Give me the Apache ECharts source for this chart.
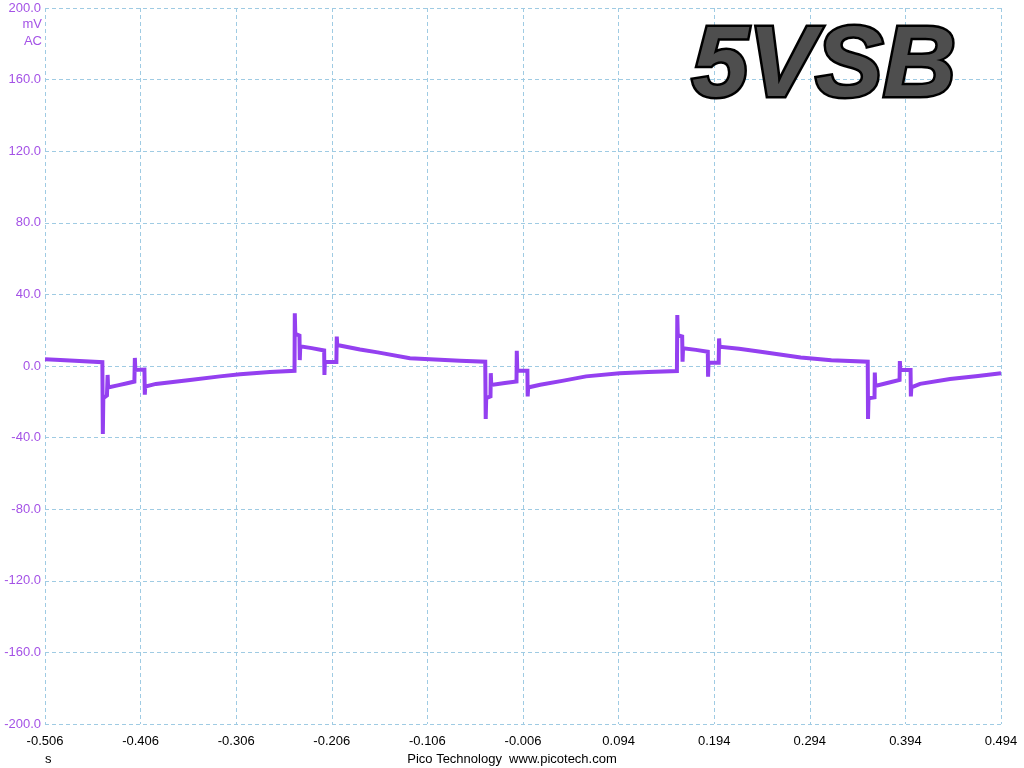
<!DOCTYPE html>
<html>
<head>
<meta charset="utf-8">
<title>5VSB</title>
<script src="https://cdn.jsdelivr.net/npm/echarts@6/dist/echarts.min.js"></script>
<style>
  html, body { margin: 0; padding: 0; background: #fff; }
  #chart { width: 1024px; height: 768px; }
</style>
</head>
<body>
<div id="chart"></div>
<script>
// time of each sample (s) and ripple voltage (mV, AC coupled)
var timeS = [
  -0.506, -0.490, -0.470, -0.4460,
  -0.4455, -0.4450, -0.4412, -0.4405, -0.4400, -0.4300, -0.4200, -0.4125,
  -0.4120, -0.4115, -0.4020, -0.4016, -0.4012,
  -0.390, -0.3543, -0.323, -0.302, -0.2706, -0.2450,
  -0.2447, -0.2442, -0.2398, -0.2395, -0.2390, -0.227, -0.2140,
  -0.2137, -0.2133, -0.2012, -0.2008, -0.2003,
  -0.1765, -0.158, -0.1243, -0.0719, -0.0455,
  -0.0450, -0.0445, -0.0400, -0.0397, -0.0392, -0.025, -0.0128,
  -0.0125, -0.0120, -0.0014, -0.0011, -0.0006,
  0.012, 0.035, 0.060, 0.095, 0.125, 0.1550,
  0.1554, 0.1559, 0.1605, 0.1609, 0.1614, 0.175, 0.1873,
  0.1876, 0.1880, 0.1987, 0.1991, 0.1996,
  0.220, 0.2426, 0.2845, 0.3165, 0.3546,
  0.3549, 0.3554, 0.3617, 0.3620, 0.3625, 0.375, 0.3879,
  0.3882, 0.3887, 0.3994, 0.3997, 0.4002,
  0.4093, 0.4407, 0.470, 0.494
];
var voltageMv = [
  3.8, 3.3, 2.8, 2.1,
  -38, -18, -16.5, -5, -12, -10.8, -9.6, -8.7,
  4.5, -2.2, -2.0, -16, -11.5,
  -10.0, -7.8, -5.8, -4.6, -3.3, -2.7,
  29.5, 18, 17, 3.3, 11, 10, 8.7,
  -5, 2.2, 2.2, 16.4, 11.7,
  9.2, 7.6, 4.3, 3.0, 2.4,
  -29.6, -18, -17, -4, -10.6, -9.5, -8.7,
  8.5, -2.6, -2.6, -17, -12,
  -10.5, -8.3, -5.8, -4.1, -3.3, -2.8,
  28.5, 17.3, 16.5, 2.4, 9.9, 9.0, 8.0,
  -6, 1.8, 1.8, 15.4, 10.8,
  9.6, 8.0, 4.8, 3.2, 2.4,
  -29.6, -18, -17.5, -3.7, -11.2, -9.5, -7.8,
  2.8, -2.2, -2.2, -17, -12,
  -10.0, -7.3, -5.6, -4.1
];
var xTickLabels = ['-0.506', '-0.406', '-0.306', '-0.206', '-0.106', '-0.006',
                   '0.094', '0.194', '0.294', '0.394', '0.494'];
var yTickLabels = ['-200.0', '-160.0', '-120.0', '-80.0', '-40.0', '0.0',
                   '40.0', '80.0', '120.0', '160.0', '200.0'];

// the scope starts its time axis at -0.506 s, so plot against the offset from the start
var tStart = -0.506;
var points = timeS.map(function (t, i) {
  return [t - tStart, voltageMv[i]];
});

var traceColor = '#9440f0';
var labelPurple = '#a452e6';
var gridBlue = '#9fcbe3';
var labelFont = '13px Liberation Sans, Arial, sans-serif';
var titleFont = 'italic bold 101px Liberation Sans, Arial, sans-serif';

var chart = echarts.init(document.getElementById('chart'));

var option = {
  backgroundColor: '#ffffff',
  animation: false,
  grid: { left: 45, right: 23, top: 8, bottom: 44 },
  xAxis: {
    type: 'value',
    min: 0,
    max: 1.0,
    interval: 0.1,
    axisLine: { show: false },
    axisTick: { show: false },
    axisLabel: {
      color: '#000',
      fontFamily: 'Liberation Sans, Arial, sans-serif',
      fontSize: 13,
      margin: 11,
      formatter: function (v) { return xTickLabels[Math.round(v * 10)]; }
    },
    splitLine: { show: true, lineStyle: { color: gridBlue, type: [4, 3], width: 1 } }
  },
  yAxis: {
    type: 'value',
    min: -200,
    max: 200,
    interval: 40,
    axisLine: { show: false },
    axisTick: { show: false },
    axisLabel: {
      color: labelPurple,
      fontFamily: 'Liberation Sans, Arial, sans-serif',
      fontSize: 13,
      margin: 4,
      formatter: function (v) { return yTickLabels[Math.round((v + 200) / 40)]; }
    },
    splitLine: { show: true, lineStyle: { color: gridBlue, type: [4, 3], width: 1 } }
  },
  series: [{
    type: 'line',
    data: points,
    showSymbol: false,
    lineStyle: { color: traceColor, width: 4, join: 'miter' },
    z: 5
  }],
  graphic: [
    { type: 'text', right: 982, top: 18,
      style: { text: 'mV', fill: labelPurple, font: labelFont, textAlign: 'right' } },
    { type: 'text', right: 982, top: 35,
      style: { text: 'AC', fill: labelPurple, font: labelFont, textAlign: 'right' } },
    { type: 'text', left: 45, top: 753,
      style: { text: 's', fill: '#000', font: labelFont } },
    { type: 'text', left: 'center', top: 753,
      style: { text: 'Pico Technology  www.picotech.com', fill: '#000', font: labelFont } },
    // big chrome-looking title: black outline layer, then a dark grey face on top
    { type: 'text', x: 824, y: 68, z: 10,
      style: {
        text: '5VSB', font: titleFont, textAlign: 'center', textVerticalAlign: 'middle',
        fill: '#000', stroke: '#000', lineWidth: 5,
        shadowColor: 'rgba(0,0,0,0.4)', shadowBlur: 3, shadowOffsetX: 1, shadowOffsetY: 1
      } },
    { type: 'text', x: 824, y: 68, z: 11,
      style: {
        text: '5VSB', font: titleFont, textAlign: 'center', textVerticalAlign: 'middle',
        fill: '#4e4e4e'
      } }
  ]
};

chart.setOption(option);
</script>
</body>
</html>
